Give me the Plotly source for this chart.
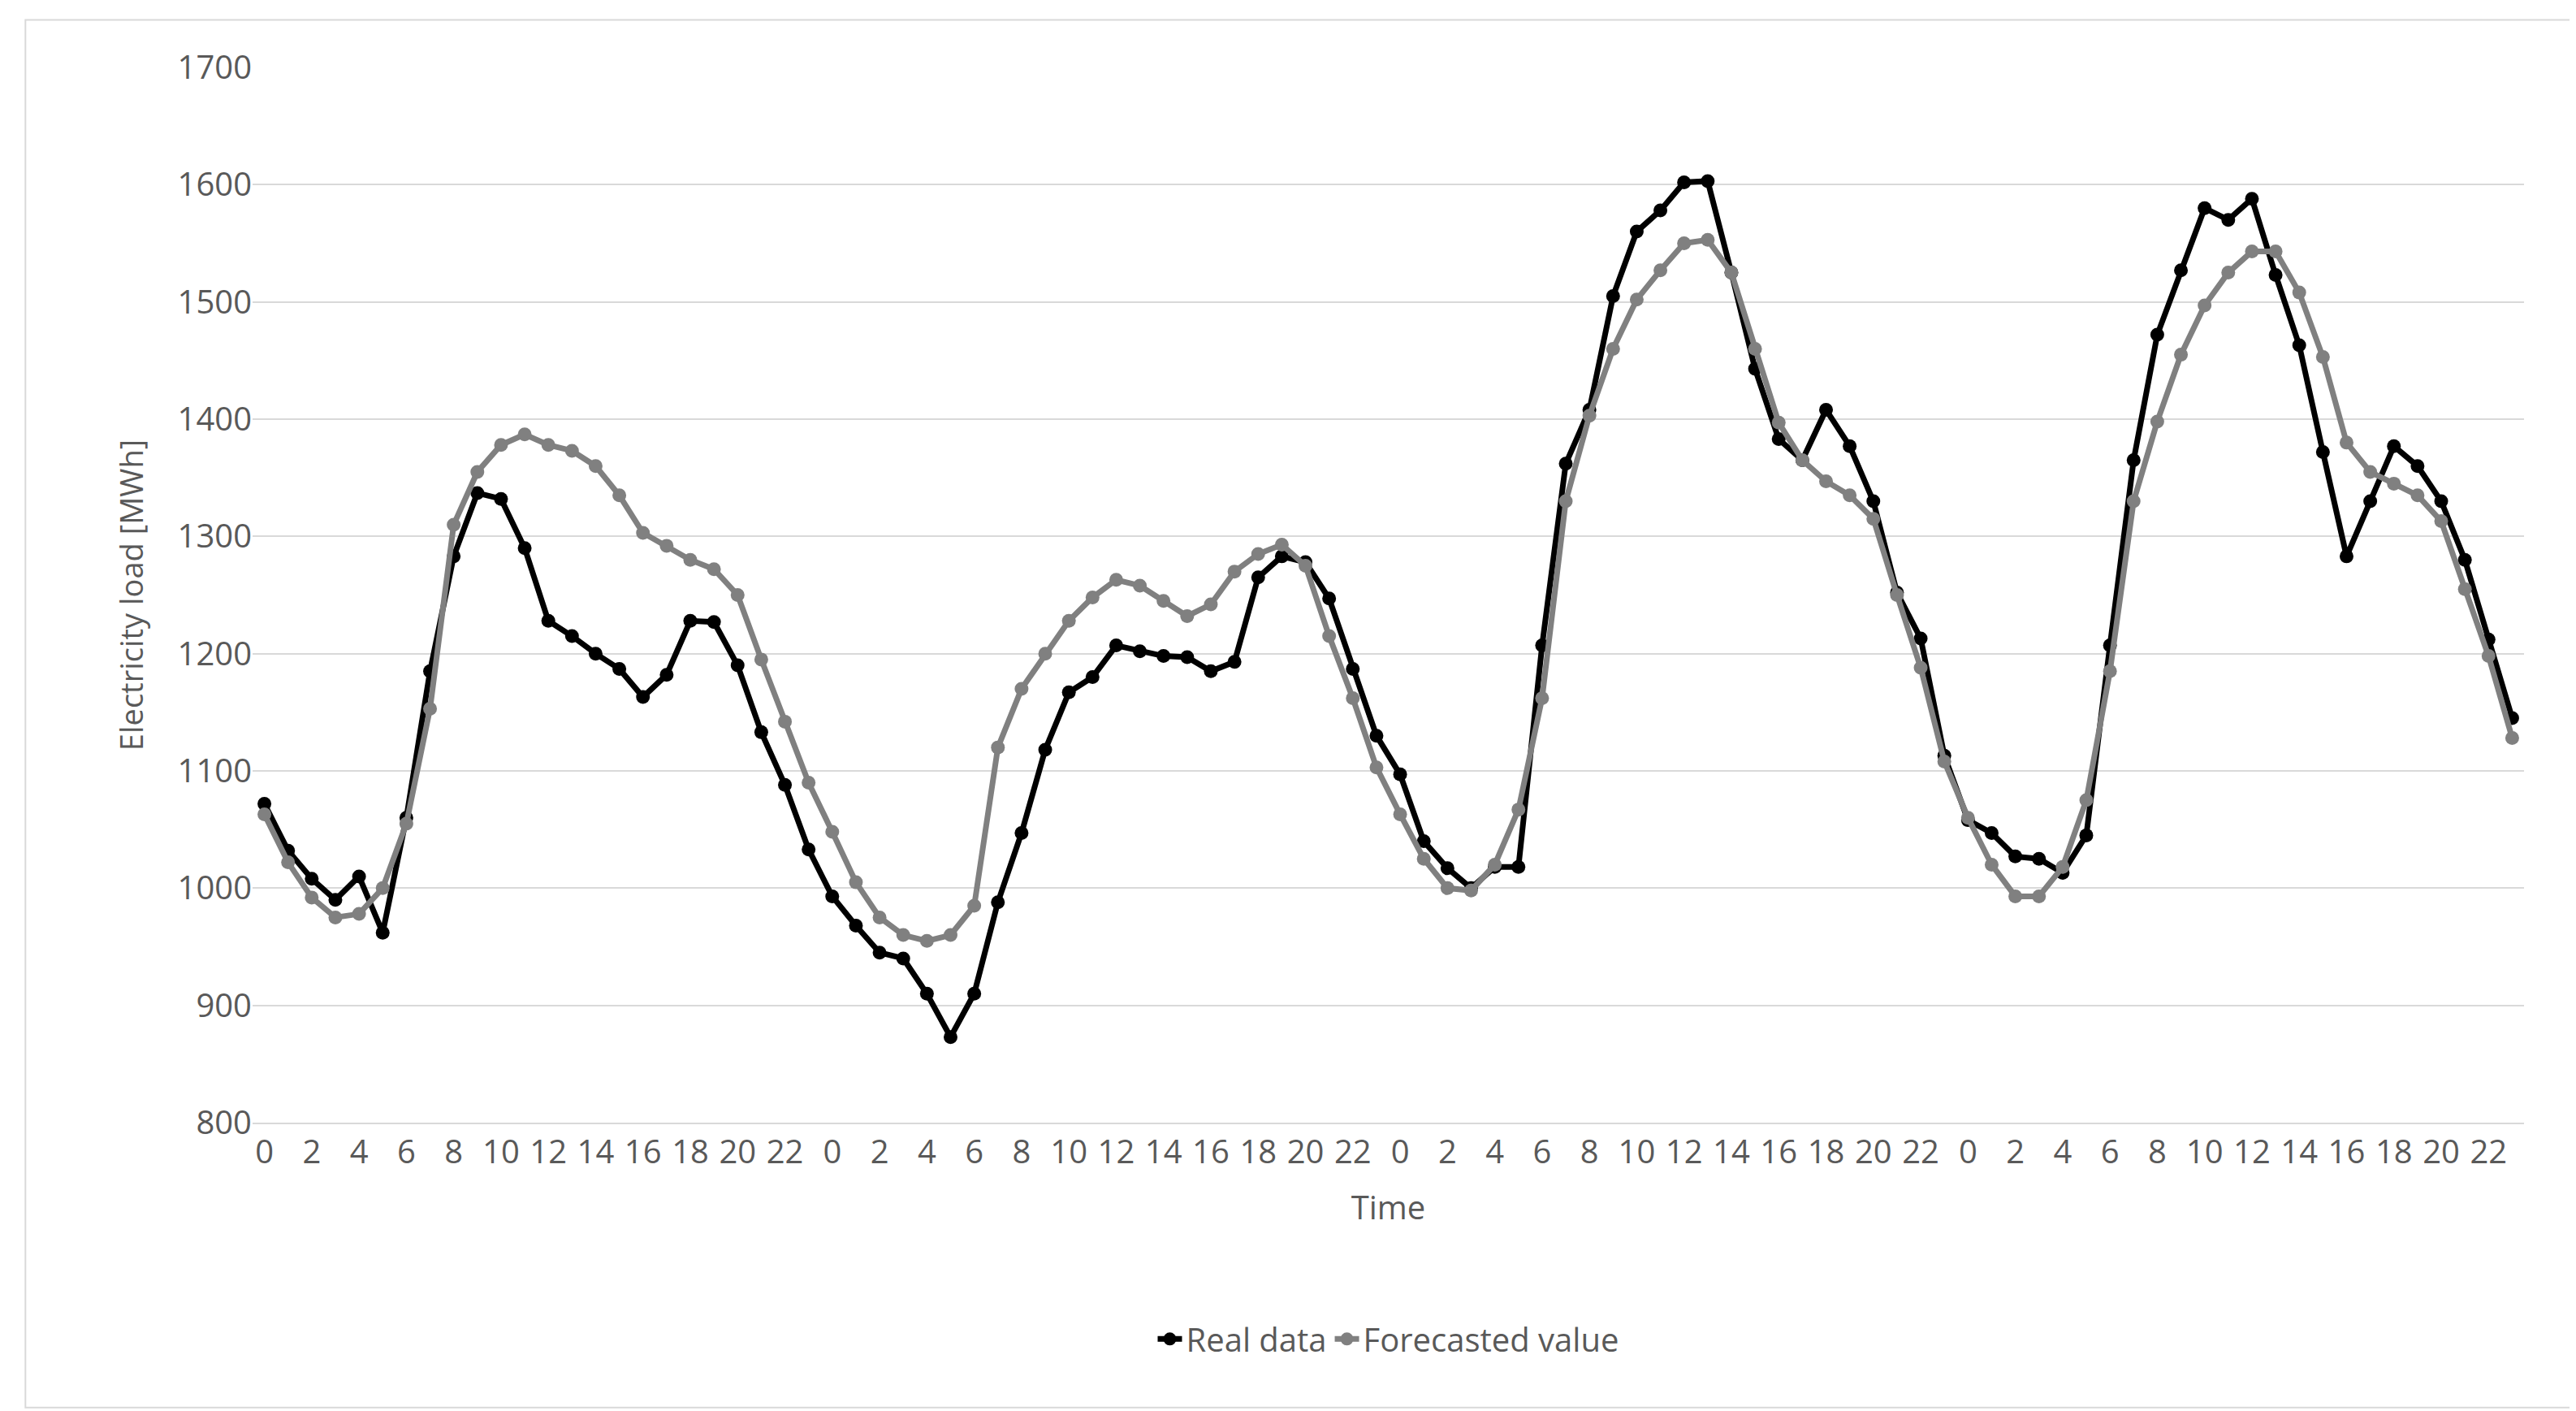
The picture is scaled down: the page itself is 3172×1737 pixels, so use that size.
import plotly.graph_objects as go

hours = list(range(24)) * 4
real = [1072,1032,1008,990,1010,962,1060,1185,1283,1337,1332,1290,1228,1215,1200,1187,1163,1182,1228,1227,1190,1133,1088,1033,
        993,968,945,940,910,873,910,988,1047,1118,1167,1180,1207,1202,1198,1197,1185,1193,1265,1283,1278,1247,1187,1130,
        1097,1040,1017,1000,1018,1018,1207,1362,1408,1505,1560,1578,1602,1603,1525,1443,1383,1365,1408,1377,1330,1252,1213,1113,
        1058,1047,1027,1025,1013,1045,1207,1365,1472,1527,1580,1570,1588,1523,1463,1372,1283,1330,1377,1360,1330,1280,1212,1145]
forecast = [1063,1022,992,975,978,1000,1055,1153,1310,1355,1378,1387,1378,1373,1360,1335,1303,1292,1280,1272,1250,1195,1142,1090,
            1048,1005,975,960,955,960,985,1120,1170,1200,1228,1248,1263,1258,1245,1232,1242,1270,1285,1293,1275,1215,1162,1103,
            1063,1025,1000,998,1020,1067,1162,1330,1403,1460,1502,1527,1550,1553,1525,1460,1397,1365,1347,1335,1315,1250,1188,1108,
            1060,1020,993,993,1018,1075,1185,1330,1398,1455,1497,1525,1543,1543,1508,1453,1380,1355,1345,1335,1313,1255,1198,1128]

idx = list(range(len(hours)))
tickvals = [i for i in idx if hours[i] % 2 == 0]
ticktext = [str(hours[i]) for i in tickvals]

fig = go.Figure()
fig.add_trace(go.Scatter(x=idx, y=real, name="Real data", mode="lines+markers",
                         line=dict(color="#000000", width=7), marker=dict(size=17, color="#000000")))
fig.add_trace(go.Scatter(x=idx, y=forecast, name="Forecasted value", mode="lines+markers",
                         line=dict(color="#808080", width=7), marker=dict(size=17, color="#808080")))

font = "Segoe UI, Open Sans, Liberation Sans, sans-serif"
fig.update_layout(
    width=3172, height=1737, autosize=False,
    paper_bgcolor="white", plot_bgcolor="white",
    margin=dict(l=303, r=72, t=75, b=363, autoexpand=False),
    font=dict(family=font, size=40, color="#595959"),
    showlegend=True,
    legend=dict(orientation="h", x=0.5, xanchor="center", y=-0.205, yanchor="middle",
                font=dict(size=40, color="#595959")),
    shapes=[dict(type="rect", xref="paper", yref="paper", x0=-0.1, x1=1.022, y0=-0.27, y1=1.045,
                 line=dict(color="#D9D9D9", width=2))],
)
fig.update_xaxes(range=[-0.5, 95.5], tickvals=tickvals, ticktext=ticktext, tickangle=0,
                 showgrid=False, showline=True, linecolor="#D9D9D9", linewidth=2, ticks="",
                 title=dict(text="Time", font=dict(size=40, color="#595959"), standoff=30),
                 tickfont=dict(size=40, color="#595959"), zeroline=False)
fig.update_yaxes(range=[800, 1700], dtick=100, showgrid=True, gridcolor="#D9D9D9", gridwidth=2,
                 title=dict(text="Electricity load [MWh]", font=dict(size=38, color="#595959"), standoff=30),
                 tickfont=dict(size=40, color="#595959"), zeroline=False, ticks="")
fig.write_html("out.html")
